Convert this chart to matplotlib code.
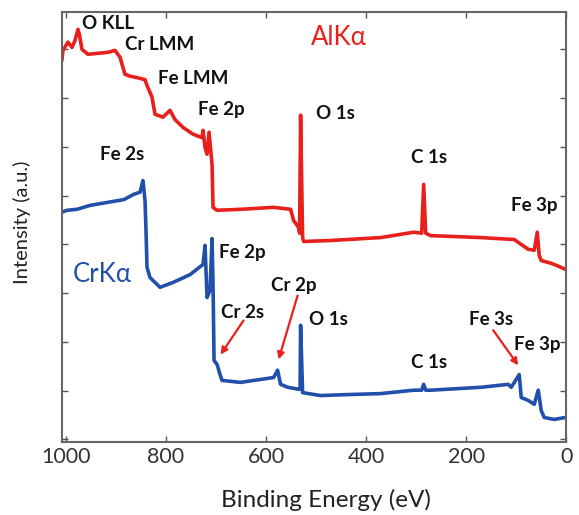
import matplotlib.pyplot as plt
import numpy as np

# AlKa survey (red), binding energy (eV) vs intensity (a.u.)
al_energy = [1008, 1006, 996, 988, 982, 976, 973, 968, 956, 936, 916, 902, 892, 882, 872,
             862, 842, 838, 828, 822, 806, 792, 782, 766, 746, 728, 726, 722, 718, 714,
             708, 706, 698, 651, 585, 551, 545, 535, 533, 531, 527, 525, 471, 371, 305,
             289, 285, 281, 271, 170, 104, 76, 64, 58, 54, 50, 36, 24, 2]
al_counts = [7.79, 7.98, 8.15, 8.04, 8.18, 8.41, 8.30, 8.00, 7.90, 7.92, 7.94, 7.98, 7.84,
             7.49, 7.45, 7.43, 7.38, 7.26, 7.02, 6.67, 6.61, 6.75, 6.56, 6.40, 6.26, 6.19,
             6.34, 5.99, 5.85, 6.30, 5.64, 4.76, 4.70, 4.72, 4.76, 4.72, 4.49, 4.35, 4.23,
             6.65, 4.14, 4.06, 4.08, 4.14, 4.25, 4.23, 5.23, 4.23, 4.18, 4.14, 4.10, 3.90,
             3.88, 4.25, 3.77, 3.67, 3.63, 3.59, 3.49]

# CrKa survey (blue)
cr_energy = [1008, 998, 978, 952, 918, 884, 864, 852, 846, 842, 840, 838, 832, 812, 786,
             752, 726, 722, 718, 712, 708, 706, 704, 698, 692, 688, 651, 585, 577, 571,
             557, 535, 532, 531, 527, 491, 437, 371, 305, 289, 285, 281, 271, 170, 116,
             110, 94, 90, 76, 64, 56, 50, 44, 24, 2]
cr_counts = [4.66, 4.70, 4.72, 4.80, 4.86, 4.92, 5.03, 5.07, 5.31, 4.90, 4.29, 3.53, 3.32,
             3.12, 3.22, 3.38, 3.59, 3.98, 2.91, 3.06, 4.12, 3.18, 1.62, 1.54, 1.33, 1.21,
             1.17, 1.27, 1.42, 1.13, 1.07, 1.03, 1.03, 2.34, 0.96, 0.90, 0.92, 0.94, 1.01,
             1.01, 1.13, 1.01, 1.01, 1.07, 1.13, 1.07, 1.33, 0.86, 0.80, 0.72, 1.01, 0.59,
             0.45, 0.41, 0.45]

# peak labels: text, x, y
al_labels = [('O KLL', 968, 8.53), ('Cr LMM', 882, 8.10), ('Fe LMM', 816, 7.41),
             ('Fe 2p', 737, 6.77), ('O 1s', 501, 6.69), ('C 1s', 311, 5.78),
             ('Fe 3p', 110, 4.80)]
cr_labels = [('Fe 2s', 932, 5.85), ('Fe 2p', 695, 3.84), ('Cr 2p', 591, 3.16),
             ('Cr 2s', 691, 2.61), ('O 1s', 515, 2.46), ('C 1s', 311, 1.58),
             ('Fe 3s', 194, 2.46), ('Fe 3p', 104, 1.95)]
# arrows: (tail x, tail y, head x, head y)
arrows = [(645, 2.44, 691, 1.74), (537, 2.95, 575, 1.64), (146, 2.24, 96, 1.52)]

red = '#e8201c'
blue = '#2150ab'

fig = plt.figure(figsize=(5.79, 5.15), dpi=100)
ax = fig.add_axes([0.107, 0.142, 0.871, 0.835])

ax.plot(al_energy, al_counts, color=red, lw=2.6)
ax.plot(cr_energy, cr_counts, color=blue, lw=2.6)

for t, x, y in al_labels + cr_labels:
    ax.text(x, y, t, fontfamily='Lato', fontweight='bold', fontsize=13.5,
            ha='left', va='center', color='#111111')

ax.text(511, 8.25, 'AlKα', color=red, fontsize=18.5, fontfamily='Lato',
        ha='left', va='center')
ax.text(986, 3.38, 'CrKα', color=blue, fontsize=18.5, fontfamily='Lato',
        ha='left', va='center')

for x0, y0, x1, y1 in arrows:
    ax.annotate('', xy=(x1, y1), xytext=(x0, y0),
                arrowprops=dict(arrowstyle='-|>', color=red, lw=1.6,
                                mutation_scale=10, shrinkA=0, shrinkB=0))

ax.set_xlim(1008, 0)
ax.set_ylim(-0.05, 8.77)
ax.set_xticks([1000, 800, 600, 400, 200, 0])
ax.set_yticks(np.arange(0, 9))
ax.set_yticklabels([])
ax.tick_params(direction='in', top=True, right=True, length=4, width=1,
               colors='#555555', labelcolor='#333333', labelsize=15.5)
for lbl in ax.get_xticklabels():
    lbl.set_fontfamily('Lato')
for s in ax.spines.values():
    s.set_color('#666666')
    s.set_linewidth(1.5)

fig.text(0.563, 0.029, 'Binding Energy (eV)', fontfamily='Lato', fontsize=17.5,
         color='#222222', ha='center', va='center')
ax.set_ylabel('Intensity (a.u.)', fontfamily='Lato', fontsize=14.5, color='#222222')
ax.yaxis.set_label_coords(-0.062, 0.51)

fig.savefig('out.png', dpi=100)
